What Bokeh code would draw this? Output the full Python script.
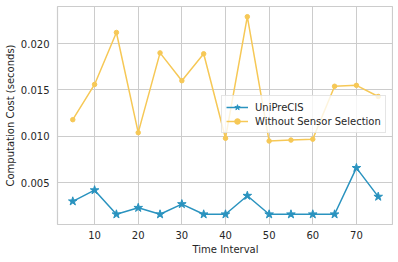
from bokeh.plotting import figure
from bokeh.models import Range1d, FixedTicker, Legend, LegendItem
from bokeh.embed import file_html
from bokeh.resources import INLINE

# Data
time_interval = [5, 10, 15, 20, 25, 30, 35, 40, 45, 50, 55, 60, 65, 70, 75]
uniprecis = [0.0030, 0.0042, 0.0016, 0.0023, 0.0016, 0.0027, 0.0016, 0.0016,
             0.0036, 0.0016, 0.0016, 0.0016, 0.0016, 0.0066, 0.0035]
without_selection = [0.0118, 0.0156, 0.0212, 0.0104, 0.0190, 0.0160, 0.0189, 0.0098,
                     0.0229, 0.0095, 0.0096, 0.0097, 0.0154, 0.0155, 0.0143]
x_ticks = [10, 20, 30, 40, 50, 60, 70]
y_ticks = [0.005, 0.010, 0.015, 0.020]
y_tick_labels = ["0.005", "0.010", "0.015", "0.020"]

BLUE = "#2a93bf"
YELLOW = "#f6c856"
TXT = "#262626"
GRID = "#cccccc"
FONT = "DejaVu Sans"

p = figure(width=393, height=257,
           x_range=Range1d(1.5, 78.5), y_range=Range1d(0.0005, 0.0240),
           output_backend="svg", toolbar_location=None,
           min_border_left=57, min_border_top=6, min_border_right=0, min_border_bottom=30)

p.background_fill_color = "white"
p.border_fill_color = "white"
p.outline_line_color = GRID
p.outline_line_width = 1.2

for ax in (p.xaxis[0], p.yaxis[0]):
    ax.axis_line_color = None
    ax.major_tick_line_color = None
    ax.minor_tick_line_color = None
    ax.major_tick_out = 0
    ax.major_tick_in = 0
    ax.major_label_text_font = FONT
    ax.major_label_text_font_size = "10px"
    ax.major_label_text_color = TXT
    ax.axis_label_text_font = FONT
    ax.axis_label_text_font_size = "10px"
    ax.axis_label_text_color = TXT
    ax.axis_label_text_font_style = "normal"

p.xaxis.ticker = FixedTicker(ticks=x_ticks)
p.yaxis.ticker = FixedTicker(ticks=y_ticks)
p.yaxis.major_label_overrides = {t: l for t, l in zip(y_ticks, y_tick_labels)}
p.xaxis.axis_label = "Time Interval"
p.yaxis.axis_label = "Computation Cost (seconds)"
p.xaxis.major_label_standoff = 6
p.xaxis.axis_label_standoff = 2
p.yaxis.major_label_standoff = 8
p.yaxis.axis_label_standoff = 2

p.xgrid.grid_line_color = GRID
p.ygrid.grid_line_color = GRID
p.xgrid.grid_line_width = 1
p.ygrid.grid_line_width = 1

l1 = p.line(time_interval, uniprecis, line_color=BLUE, line_width=1.5)
s1 = p.scatter(time_interval, uniprecis, marker="star", size=9,
               fill_color=BLUE, line_color=BLUE)
l2 = p.line(time_interval, without_selection, line_color=YELLOW, line_width=1.5)
s2 = p.scatter(time_interval, without_selection, marker="circle", size=4.5,
               fill_color=YELLOW, line_color=YELLOW)

legend = Legend(items=[LegendItem(label="UniPreCIS", renderers=[l1, s1]),
                       LegendItem(label="Without Sensor Selection", renderers=[l2, s2])],
                location=(164, 91))
legend.label_text_font = FONT
legend.label_text_font_size = "10px"
legend.label_text_color = TXT
legend.border_line_color = GRID
legend.border_line_width = 1
legend.background_fill_alpha = 0.8
legend.padding = 4
legend.spacing = 0
legend.margin = 0
legend.glyph_width = 22
legend.glyph_height = 14
legend.label_height = 14
legend.label_standoff = 7
p.add_layout(legend, "center")

open("out.html", "w").write(file_html(p, INLINE))
